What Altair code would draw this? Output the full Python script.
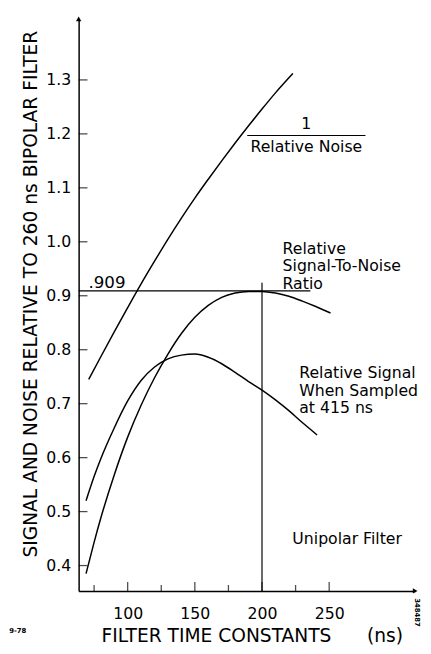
import altair as alt
import pandas as pd

# ---- data ----
noise_x = [71, 80, 90, 100, 110, 120, 130, 140, 150, 160, 170, 180, 190, 200, 210, 223]
noise_y = [0.745, 0.787, 0.833, 0.878, 0.922, 0.964, 1.005, 1.044, 1.081, 1.116, 1.150, 1.183, 1.215, 1.246, 1.276, 1.312]

snr_x = [69, 75, 80, 90, 100, 110, 120, 130, 140, 150, 160, 170, 180, 190, 200, 210, 220, 230, 240, 251]
snr_y = [0.385, 0.443, 0.488, 0.568, 0.638, 0.697, 0.748, 0.792, 0.830, 0.860, 0.882, 0.897, 0.905, 0.908, 0.908, 0.905, 0.899, 0.890, 0.880, 0.868]

sig_x = [69, 75, 80, 90, 100, 110, 120, 130, 140, 150, 160, 170, 180, 190, 200, 210, 220, 230, 241]
sig_y = [0.52, 0.565, 0.598, 0.655, 0.705, 0.743, 0.768, 0.783, 0.790, 0.792, 0.786, 0.774, 0.758, 0.741, 0.725, 0.707, 0.687, 0.665, 0.642]

x_major = [100, 150, 200, 250]
x_minor = [75, 125, 175, 225]
y_ticks = [0.4, 0.5, 0.6, 0.7, 0.8, 0.9, 1.0, 1.1, 1.2, 1.3]

x_min, x_max = 63.5, 314
y_min, y_max = 0.353, 1.413

# reference lines
snr_max = 0.909
h_line_x = [x_min, 236]
v_line_x = 200
v_line_y = [y_min, 0.924]
frac_x = [189, 277]
frac_y = 1.197

# annotation texts
ann_text = [".909", "1", "Relative Noise", "Relative", "Signal-To-Noise", "Ratio",
            "Relative Signal", "When  Sampled", "at 415 ns", "Unipolar Filter"]
ann_x = [70.8, 233, 233, 215.3, 215.3, 215.3, 227.7, 227.7, 227.7, 222.6]
ann_y = [0.924, 1.219, 1.176, 0.987, 0.955, 0.922, 0.756, 0.724, 0.692, 0.449]
ann_align = ["left", "center", "center", "left", "left", "left", "left", "left", "left", "left"]
ann_size = [17, 16, 16, 16, 16, 16, 16, 16, 16, 16]

W, H = 343, 583
FONT = "DejaVu Sans"

xs = alt.Scale(domain=[x_min, x_max], nice=False, zero=False)
ys = alt.Scale(domain=[y_min, y_max], nice=False, zero=False)

x_axis = alt.Axis(values=x_major, tickSize=0, labelPadding=15, grid=False,
                  domainColor="black", domainWidth=1.5, labelFont=FONT, labelFontSize=16,
                  labelColor="black",
                  title="FILTER TIME CONSTANTS\u00a0\u00a0\u00a0\u00a0\u00a0\u00a0(ns)",
                  titleFont=FONT, titleFontSize=19, titleFontWeight="normal", titleColor="black",
                  titlePadding=6, titleAlign="center", titleX=176.5)
y_axis = alt.Axis(values=y_ticks, format=".1f", tickSize=0, labelPadding=8, grid=False,
                  domainColor="black", domainWidth=1.5, labelFont=FONT, labelFontSize=16,
                  labelColor="black", title="SIGNAL AND NOISE RELATIVE TO 260 ns BIPOLAR FILTER",
                  titleFont=FONT, titleFontSize=19, titleFontWeight="normal", titleColor="black",
                  titlePadding=5, titleY=280)

def X(field="x"):
    return alt.X(f"{field}:Q", scale=xs, axis=x_axis)

def Y(field="y"):
    return alt.Y(f"{field}:Q", scale=ys, axis=y_axis)

curves = pd.concat([
    pd.DataFrame({"x": noise_x, "y": noise_y, "s": "noise"}),
    pd.DataFrame({"x": snr_x, "y": snr_y, "s": "snr"}),
    pd.DataFrame({"x": sig_x, "y": sig_y, "s": "signal"}),
])

lines = alt.Chart(curves).mark_line(color="black", strokeWidth=1.5, interpolate="monotone").encode(
    x=X(), y=Y(), detail="s:N")

hline = alt.Chart(pd.DataFrame({"x": [h_line_x[0]], "x2": [h_line_x[1]], "y": [snr_max]})).mark_rule(
    color="black", strokeWidth=1.2).encode(x=X(), x2="x2:Q", y=Y())
vline = alt.Chart(pd.DataFrame({"x": [v_line_x], "y": [v_line_y[0]], "y2": [v_line_y[1]]})).mark_rule(
    color="black", strokeWidth=1.2).encode(x=X(), y=Y(), y2="y2:Q")
frac = alt.Chart(pd.DataFrame({"x": [frac_x[0]], "x2": [frac_x[1]], "y": [frac_y]})).mark_rule(
    color="black", strokeWidth=1.2).encode(x=X(), x2="x2:Q", y=Y())

ytick = alt.Chart(pd.DataFrame({"y": y_ticks})).mark_tick(
    orient="horizontal", color="black", size=9, thickness=1.3).encode(y=Y(), x=alt.value(4.5))
xtick_major = alt.Chart(pd.DataFrame({"x": x_major})).mark_tick(
    orient="vertical", color="black", size=9, thickness=1.3).encode(x=X(), y=alt.value(H - 4.5))
xtick_minor = alt.Chart(pd.DataFrame({"x": x_minor})).mark_tick(
    orient="vertical", color="black", size=6, thickness=1.3).encode(x=X(), y=alt.value(H - 3))

arrow_up = alt.Chart(pd.DataFrame({"x": [x_min], "y": [y_max]})).mark_point(
    shape="triangle-up", filled=True, color="black", size=30, opacity=1).encode(x=X(), y=Y())
arrow_right = alt.Chart(pd.DataFrame({"x": [x_max], "y": [y_min]})).mark_point(
    shape="triangle-right", filled=True, color="black", size=30, opacity=1).encode(x=X(), y=Y())

ann = pd.DataFrame({"x": ann_x, "y": ann_y, "t": ann_text, "a": ann_align, "fs": ann_size})
ann_left = alt.Chart(ann[ann.a == "left"]).mark_text(
    font=FONT, align="left", baseline="middle", color="black").encode(
    x=X(), y=Y(), text="t:N", size=alt.Size("fs:Q", scale=None, legend=None))
ann_center = alt.Chart(ann[ann.a == "center"]).mark_text(
    font=FONT, align="center", baseline="middle", color="black").encode(
    x=X(), y=Y(), text="t:N", size=alt.Size("fs:Q", scale=None, legend=None))

corner = alt.Chart(pd.DataFrame({"x": [18.2], "y": [0.278], "t": ["9-78"]})).mark_text(
    font=FONT, fontSize=7, fontWeight="bold", color="black").encode(x=X(), y=Y(), text="t:N")
stamp = alt.Chart(pd.DataFrame({"x": [315.3], "y": [0.313], "t": ["348487"]})).mark_text(
    font=FONT, fontSize=7, fontWeight="bold", angle=90, color="black").encode(x=X(), y=Y(), text="t:N")

chart = alt.layer(
    lines, hline, vline, frac, ytick, xtick_major, xtick_minor, arrow_up, arrow_right,
    ann_left, ann_center, corner, stamp
).properties(
    width=W, height=H, autosize="none",
    padding={"left": 72, "top": 5, "right": 8, "bottom": 50},
    background="white"
).configure_view(stroke=None)

chart.save("out.html", embed_options={"renderer": "svg", "actions": False})
